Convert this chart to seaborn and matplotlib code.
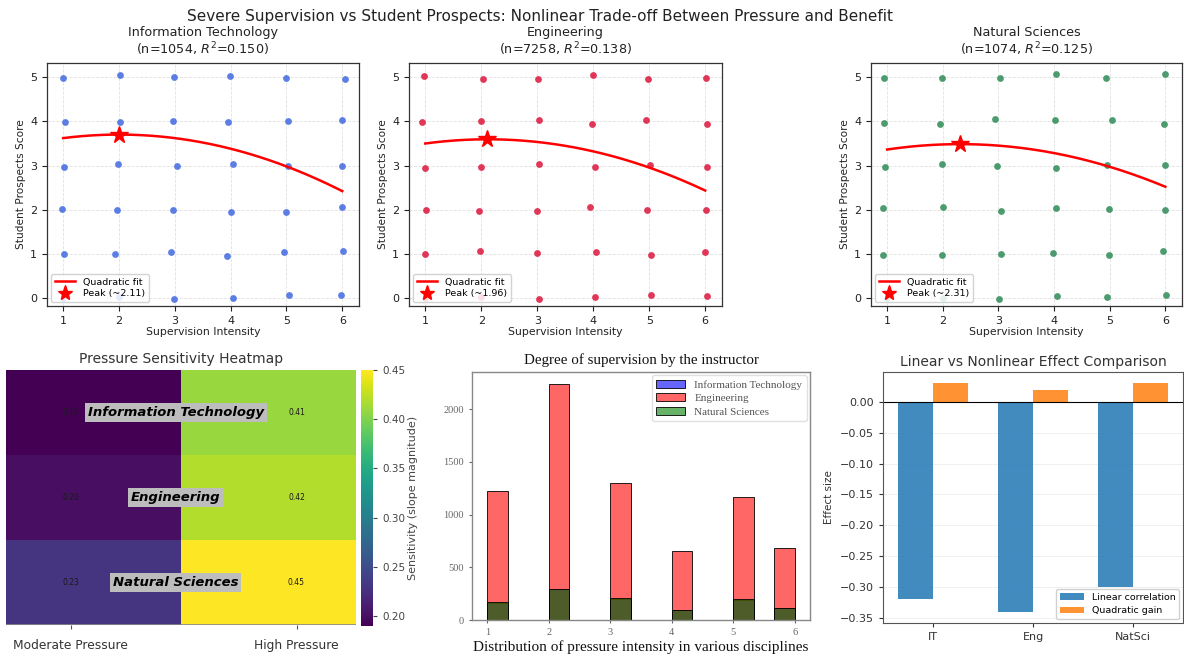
import numpy as np
import pandas as pd
import matplotlib
matplotlib.use("Agg")
import matplotlib.pyplot as plt
import seaborn as sns
from matplotlib.lines import Line2D

# ---------------- data ----------------
disciplines = ["Information Technology", "Engineering", "Natural Sciences"]
short_names = ["IT", "Eng", "NatSci"]
sample_sizes = [1054, 7258, 1074]
r_squared = [0.150, 0.138, 0.125]
peak_labels = ["~2.11", "~1.96", "~2.31"]
peak_x = [2.0, 2.1, 2.31]
peak_y = [3.70, 3.59, 3.48]

fit_levels = [1, 2, 3, 4, 5, 6]
fit_it = [3.62, 3.70, 3.62, 3.38, 2.98, 2.42]
fit_eng = [3.50, 3.59, 3.53, 3.32, 2.96, 2.43]
fit_ns = [3.36, 3.48, 3.45, 3.28, 2.97, 2.52]

it_x = [0.99, 2.02, 2.98, 3.99, 4.99, 6.05,
        1.04, 2.01, 2.96, 3.96, 5.02, 5.99,
        1.01, 1.99, 3.04, 4.05, 5.02, 6.00,
        0.98, 1.96, 2.96, 4.01, 5.00, 5.99,
        1.02, 1.93, 2.94, 3.94, 4.96, 6.01,
        1.00, 2.00, 2.98, 4.05, 5.05, 5.97]
it_y = [4.99, 5.05, 5.00, 5.02, 4.97, 4.96,
        3.99, 3.99, 4.01, 3.99, 4.00, 4.04,
        2.97, 3.03, 3.00, 3.03, 2.98, 3.00,
        2.01, 2.00, 2.00, 1.95, 1.95, 2.05,
        0.99, 0.99, 1.04, 0.95, 1.04, 1.07,
        0.00, 0.02, -0.02, 0.01, 0.08, 0.08]

eng_x = [0.97, 2.03, 3.02, 3.99, 4.97, 6.02,
         0.95, 1.99, 3.04, 3.97, 4.95, 6.04,
         0.99, 1.99, 3.03, 4.04, 5.01, 6.03,
         1.02, 1.96, 2.99, 3.94, 4.96, 6.01,
         0.99, 1.97, 3.00, 4.05, 5.03, 5.99,
         1.00, 2.00, 3.03, 4.03, 5.03, 6.04]
eng_y = [5.02, 4.96, 4.95, 5.05, 4.96, 4.97,
         3.99, 4.01, 4.04, 3.95, 4.03, 3.93,
         2.94, 2.97, 3.03, 2.97, 3.02, 2.96,
         2.00, 1.96, 1.96, 2.06, 2.00, 2.00,
         1.00, 1.06, 1.01, 1.04, 0.97, 1.04,
         0.00, 0.03, -0.02, 0.02, 0.07, 0.04]

ns_x = [0.95, 1.98, 3.03, 4.04, 4.94, 6.00,
        0.94, 1.95, 2.93, 4.01, 5.05, 5.97,
        0.97, 1.98, 2.97, 4.04, 4.96, 5.99,
        0.93, 2.01, 3.05, 4.03, 4.98, 5.99,
        0.93, 1.99, 3.04, 3.99, 4.98, 5.95,
        1.00, 2.00, 3.01, 4.05, 4.95, 6.02]
ns_y = [4.99, 4.99, 4.99, 5.07, 4.97, 5.08,
        3.96, 3.94, 4.05, 4.02, 4.02, 3.93,
        2.96, 3.03, 3.00, 2.95, 3.02, 3.01,
        2.03, 2.05, 1.97, 2.03, 2.02, 1.99,
        0.98, 0.97, 1.00, 1.02, 0.98, 1.07,
        0.00, 0.00, -0.02, 0.04, 0.03, 0.08]

pressure_levels = ["Moderate Pressure", "High Pressure"]
sens_moderate = [0.19, 0.20, 0.23]
sens_high = [0.41, 0.42, 0.45]

intensity_levels = [1, 2, 3, 4, 5, 6]
counts_it = [165, 295, 200, 95, 190, 110]
counts_eng = [1225, 2240, 1295, 655, 1170, 680]
counts_ns = [168, 298, 205, 93, 195, 115]

linear_corr = [-0.32, -0.34, -0.30]
quad_gain = [0.03, 0.02, 0.03]

# ---------------- figure ----------------
W, H = 1184, 661
fig = plt.figure(figsize=(W / 100, H / 100), dpi=100)


def px_axes(left, top, right, bottom):
    return fig.add_axes([left / W, 1 - bottom / H, (right - left) / W, (bottom - top) / H])


fig.text(540 / W, 1 - 17 / H,
         "Severe Supervision vs Student Prospects: Nonlinear Trade-off Between Pressure and Benefit",
         ha="center", va="center", fontsize=11, color="#222222")

scatter_sets = [(it_x, it_y, fit_it, "royalblue"),
                (eng_x, eng_y, fit_eng, "crimson"),
                (ns_x, ns_y, fit_ns, "seagreen")]
top_boxes = [(47, 63, 359, 306), (409, 63, 722, 306), (871, 63, 1182, 306)]

for k, (xs, ys, fit, col) in enumerate(scatter_sets):
    ax = px_axes(*top_boxes[k])
    sns.scatterplot(x=xs, y=ys, color=col, s=24, linewidth=0, alpha=0.85, ax=ax, zorder=2)
    coef = np.polyfit(fit_levels, fit, 2)
    xs_s = np.linspace(min(fit_levels), max(fit_levels), 200)
    ax.plot(xs_s, np.polyval(coef, xs_s), color="red", lw=1.8, zorder=3)
    ax.plot([peak_x[k]], [peak_y[k]], marker="*", color="red", ms=13, ls="none", zorder=4)
    ax.set_xlim(0.71, 6.30)
    ax.set_ylim(-0.18, 5.32)
    ax.set_xticks(fit_levels)
    ax.set_yticks([0, 1, 2, 3, 4, 5])
    ax.grid(True, ls="--", color="#cccccc", alpha=0.6, lw=0.6)
    ax.set_axisbelow(True)
    ax.tick_params(labelsize=8, length=3.5, colors="#222222")
    ax.set_xlabel("Supervision Intensity", fontsize=7.8, labelpad=1, color="#222222")
    ax.set_ylabel("Student Prospects Score", fontsize=7.6, labelpad=3, color="#222222")
    ax.set_title(f"{disciplines[k]}\n(n={sample_sizes[k]}, $R^2$={r_squared[k]:.3f})",
                 fontsize=9.2, color="#222222", linespacing=1.15)
    for s in ax.spines.values():
        s.set_color("#333333")
        s.set_linewidth(0.9)
    handles = [Line2D([0], [0], color="red", lw=1.8),
               Line2D([0], [0], color="red", marker="*", ms=11, ls="none")]
    ax.legend(handles, ["Quadratic fit", f"Peak ({peak_labels[k]})"], loc="lower left",
              fontsize=6.8, framealpha=0.85, borderpad=0.4, handlelength=2.2,
              labelspacing=0.3, borderaxespad=0.4)

# ---------------- heatmap ----------------
ax_h = px_axes(6, 370, 356, 625)
cax = px_axes(361, 370, 373, 626)
heat_df = pd.DataFrame({pressure_levels[0]: sens_moderate, pressure_levels[1]: sens_high},
                       index=disciplines)
sns.heatmap(heat_df, ax=ax_h, cbar_ax=cax, cmap="viridis", vmin=0.19, vmax=0.45,
            annot=False, xticklabels=True, yticklabels=False)
tick_pos = [0.37, 1.66]
ax_h.set_xticks(tick_pos)
ax_h.set_xticklabels(pressure_levels, fontsize=8.8, color="#333333", rotation=0)
ax_h.tick_params(axis="x", length=3, color="#555555", pad=7)
ax_h.set_xlabel("")
ax_h.set_ylabel("")
ax_h.set_title("Pressure Sensitivity Heatmap", fontsize=10, color="#333333", pad=5)
ax_h.axhline(len(disciplines), color="#888888", lw=1.2)
for i, name in enumerate(disciplines):
    for j, vals in enumerate([sens_moderate, sens_high]):
        ax_h.text(tick_pos[j], i + 0.5, f"{vals[i]:.2f}", ha="center", va="center",
                  fontsize=5.5, color="#1a1a1a")
    ax_h.text(0.97, i + 0.5, name, ha="center", va="center", fontsize=9.5,
              fontweight="bold", style="italic", color="black",
              bbox=dict(facecolor="#bdbdbd", edgecolor="none", pad=2))
cax.set_yticks([0.20, 0.25, 0.30, 0.35, 0.40, 0.45])
cax.set_yticklabels([f"{v:.2f}" for v in [0.20, 0.25, 0.30, 0.35, 0.40, 0.45]])
cax.tick_params(labelsize=7.5, colors="#444444", length=3)
cax.set_ylabel("Sensitivity (slope magnitude)", fontsize=8, color="#444444", labelpad=2)

# ---------------- histogram ----------------
serif = "Liberation Serif"
ax_b = px_axes(472, 372, 810, 620)
for counts, col, name in [(counts_it, "blue", disciplines[0]),
                          (counts_eng, "red", disciplines[1]),
                          (counts_ns, "green", disciplines[2])]:
    sns.histplot(x=intensity_levels, weights=counts, bins=15, binrange=(1, 6),
                 color=col, alpha=0.6, edgecolor="black", linewidth=0.6,
                 label=name, ax=ax_b)
ax_b.set_ylabel("")
ax_b.set_xlabel("Distribution of pressure intensity in various disciplines",
                fontfamily=serif, fontsize=11, color="#111111", labelpad=2)
ax_b.set_title("Degree of supervision by the instructor", fontfamily=serif,
               fontsize=10.8, color="#111111", pad=6)
ax_b.set_xticks(intensity_levels)
ax_b.set_yticks([0, 500, 1000, 1500, 2000])
for lab in ax_b.get_xticklabels() + ax_b.get_yticklabels():
    lab.set_fontfamily(serif)
ax_b.tick_params(labelsize=7.5, colors="#666666", length=2.5)
for s in ax_b.spines.values():
    s.set_color("#888888")
    s.set_linewidth(1.0)
leg = ax_b.legend(loc="upper right", prop={"family": serif, "size": 8},
                  framealpha=0.9, edgecolor="#dddddd", handlelength=2.6,
                  labelspacing=0.35, borderaxespad=0.3)
for t in leg.get_texts():
    t.set_color("#555555")

# ---------------- effect comparison ----------------
ax_e = px_axes(883, 372, 1183, 623)
eff_df = pd.DataFrame({
    "group": short_names * 2,
    "effect": linear_corr + quad_gain,
    "kind": ["Linear correlation"] * 3 + ["Quadratic gain"] * 3,
})
sns.barplot(data=eff_df, x="group", y="effect", hue="kind", ax=ax_e, width=0.7,
            palette=["tab:blue", "tab:orange"], alpha=0.85, saturation=1, errorbar=None)
ax_e.axhline(0, color="black", lw=0.8)
ax_e.grid(True, axis="y", color="#dddddd", alpha=0.5, lw=0.6)
ax_e.set_axisbelow(True)
ax_e.set_xlabel("")
ax_e.set_ylabel("Effect size", fontsize=7.5, color="#333333")
ax_e.set_title("Linear vs Nonlinear Effect Comparison", fontsize=10, color="#333333", pad=4)
ax_e.set_yticks([0.0, -0.05, -0.10, -0.15, -0.20, -0.25, -0.30, -0.35])
ax_e.set_yticklabels([f"{v:.2f}".replace("-", "\u2212") for v in
                      [0.0, -0.05, -0.10, -0.15, -0.20, -0.25, -0.30, -0.35]])
ax_e.tick_params(labelsize=8, colors="#333333", length=3)
for s in ax_e.spines.values():
    s.set_color("#555555")
    s.set_linewidth(0.8)
ax_e.legend(loc="lower right", fontsize=6.8, title=None, framealpha=0.9,
            handlelength=2.6, borderaxespad=0.4)

fig.savefig("out.png", dpi=100)
